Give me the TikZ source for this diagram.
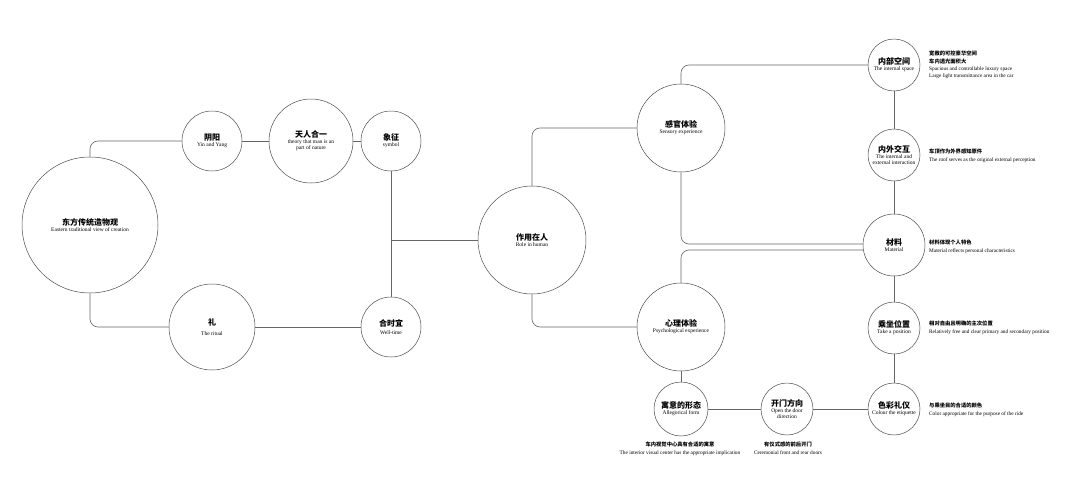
\documentclass[tikz,border=0pt]{standalone}
\usepackage{fontspec}
\setmainfont{Liberation Serif}
\newfontfamily\cjk{Noto Sans CJK SC}
\usetikzlibrary{calc}
\begin{document}
\begin{tikzpicture}[x=1pt,y=-1pt,
  circ/.style={draw=black!70,line width=0.5pt,circle,inner sep=0pt,align=center,font=\fontsize{5.5}{6}\selectfont},
  conn/.style={draw=black!60,line width=0.6pt,rounded corners=8pt},
  side/.style={anchor=north west,align=left,inner sep=0pt,font=\fontsize{5.3}{7.3}\selectfont},
  below/.style={anchor=north,align=center,inner sep=0pt,font=\fontsize{5.3}{7.3}\selectfont}]
\useasboundingbox (0,0) rectangle (1088,490);
\newcommand\zh[2][8]{{\cjk\bfseries\fontsize{#1}{#1}\selectfont #2}}
\node[circ,minimum size=136pt] (df) at (90,225) {\zh{东方传统造物观}\\Eastern traditional view of creation};
\node[circ,minimum size=60pt] (yy) at (212,141) {\zh{阴阳}\\Yin and Yang};
\node[circ,minimum size=84pt] (tr) at (311,141) {\zh{天人合一}\\theory that man is an\\part of nature};
\node[circ,minimum size=60pt] (xz) at (391,141) {\zh{象征}\\symbol};
\node[circ,minimum size=86pt] (li) at (212,327) {\zh{礼}\\[4pt]The ritual};
\node[circ,minimum size=60pt] (hs) at (391,327) {\zh{合时宜}\\[2pt]Well-time};
\node[circ,minimum size=108pt] (zy) at (532,240) {\zh{作用在人}\\Role in human};
\node[circ,minimum size=88pt] (gg) at (681,128) {\zh{感官体验}\\Sensory experience};
\node[circ,minimum size=88pt] (xl) at (681,327) {\zh{心理体验}\\Psychological experience};
\node[circ,minimum size=52pt] (nb) at (894,65) {\zh{内部空间}\\The internal space};
\node[circ,minimum size=52pt] (nw) at (894,155) {\zh{内外交互}\\The internal and\\external interaction};
\node[circ,minimum size=62pt] (cl) at (894,245) {\zh{材料}\\Material};
\node[circ,minimum size=52pt] (cz) at (894,328) {\zh{乘坐位置}\\Take a position};
\node[circ,minimum size=52pt] (sc) at (894,409) {\zh{色彩礼仪}\\Colour the etiquette};
\node[circ,minimum size=52pt] (km) at (787,409) {\zh{开门方向}\\Open the door\\direction};
\node[circ,minimum size=54pt] (yx) at (681,409) {\zh{寓意的形态}\\Allegorical form};
\coordinate (j) at (391,240);
\draw[conn] (df.north) |- (yy.west);
\draw[conn] (df.south) |- (li.west);
\draw[conn] (yy.east) -- (tr.west);
\draw[conn] (tr.east) -- (xz.west);
\draw[conn] (li.east) -- (hs.west);
\draw[conn] (xz.south) -- (hs.north);
\draw[conn] (j) -- (zy.west);
\draw[conn] (zy.north) |- (gg.west);
\draw[conn] (zy.south) |- (xl.west);
\draw[conn] (gg.north) |- (nb.west);
\draw[conn] (gg.south) |- ($(cl.west)+(0,-1)$);
\draw[conn] (xl.north) |- ($(cl.west)+(0,5)$);
\draw[conn] (nb.south) -- (nw.north);
\draw[conn] (nw.south) -- (cl.north);
\draw[conn] (cl.south) -- (cz.north);
\draw[conn] (cz.south) -- (sc.north);
\draw[conn] (sc.west) -- (km.east);
\draw[conn] (km.west) -- (yx.east);
\draw[conn] (xl.south) -- (yx.north);
\node[side] (t1) at (929,51) {{\cjk\bfseries 宽敞的可控豪华空间}\\{\cjk\bfseries 车内透光面积大}\\Spacious and controllable luxury space\\Large light transmittance area in the car};
\node[side] (t2) at (929,149) {{\cjk\bfseries 车顶作为外界感知原件}\\The roof serves as the original external perception};
\node[side] (t3) at (929,240) {{\cjk\bfseries 材料体现个人特色}\\Material reflects personal characteristics};
\node[side] (t4) at (929,321) {{\cjk\bfseries 相对自由且明确的主次位置}\\Relatively free and clear primary and secondary position};
\node[side] (t5) at (929,403) {{\cjk\bfseries 与乘坐目的合适的颜色}\\Color appropriate for the purpose of the ride};
\node[below] (t6) at (680,442) {{\cjk\bfseries 车内视觉中心具有合适的寓意}\\The interior visual center has the appropriate implication};
\node[below] (t7) at (788,442) {{\cjk\bfseries 有仪式感的前后开门}\\Ceremonial front and rear doors};
\end{tikzpicture}
\end{document}
